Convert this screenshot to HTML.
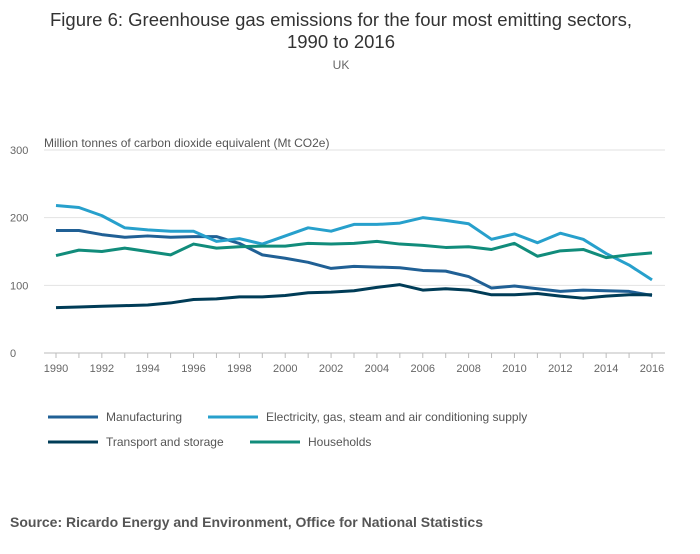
<!DOCTYPE html>
<html><head><meta charset="utf-8">
<style>
body{margin:0;background:#fff;font-family:"Liberation Sans",sans-serif;}
svg text{font-family:"Liberation Sans",sans-serif;}
</style></head>
<body>
<svg id="chart" width="700" height="549">
<text x="341" y="26" text-anchor="middle" font-size="18.5" fill="#333">Figure 6: Greenhouse gas emissions for the four most emitting sectors,</text>
<text x="341" y="48" text-anchor="middle" font-size="18.5" fill="#333">1990 to 2016</text>
<text x="341" y="69" text-anchor="middle" font-size="12" fill="#666">UK</text>
<text x="44" y="147" font-size="12" fill="#555">Million tonnes of carbon dioxide equivalent (Mt CO2e)</text>
<g id="grid"></g><g id="series"></g><g id="legend"></g>
<text x="10" y="527" font-size="14" font-weight="bold" fill="#555">Source: Ricardo Energy and Environment, Office for National Statistics</text>
</svg>
<script>
const years=[1990,1991,1992,1993,1994,1995,1996,1997,1998,1999,2000,2001,2002,2003,2004,2005,2006,2007,2008,2009,2010,2011,2012,2013,2014,2015,2016];
const manufacturing=[181,181,175,171,173,171,172,172,162,145,140,134,125,128,127,126,122,121,113,96,99,95,91,93,92,91,85];
const electricity=[218,215,203,185,182,180,180,165,169,161,173,185,180,190,190,192,200,196,191,168,176,163,177,168,147,130,108];
const transport=[67,68,69,70,71,74,79,80,83,83,85,89,90,92,97,101,93,95,93,86,86,88,84,81,84,86,86];
const households=[144,152,150,155,150,145,161,155,157,158,158,162,161,162,165,161,159,156,157,153,162,143,151,153,141,145,148];
const yTicks=[0,100,200,300];
const seriesNames=["Manufacturing","Electricity, gas, steam and air conditioning supply","Transport and storage","Households"];
const colors=["#206095","#27a0cc","#003c57","#118c7b"];
const NS="http://www.w3.org/2000/svg";
const x=y=>56+(y-1990)/26*(652-56);
const yv=v=>353-v*(203/300);
function mk(t,a,p){const e=document.createElementNS(NS,t);for(const k in a)e.setAttribute(k,a[k]);p.appendChild(e);return e;}
const grid=document.getElementById('grid');
yTicks.forEach(t=>{
 const l=mk('line',{x1:44,x2:665,y1:yv(t),y2:yv(t),stroke:t===0?'#bbb':'#e2e2e2','stroke-width':1},grid);
 
 
 const tx=mk('text',{x:10,y:yv(t)+4,'font-size':11,fill:'#666'},grid);tx.textContent=t;
 
 
});
years.forEach(yr=>{
 const tk=mk('line',{x1:x(yr),x2:x(yr),y1:353,y2:358,stroke:'#bbb'},grid);
 
 
 if(yr%2===0){const tx=mk('text',{x:x(yr),y:372,'font-size':11,fill:'#666','text-anchor':'middle'},grid);tx.textContent=yr;
 
 }
});
const data=[manufacturing,electricity,transport,households];
const sg=document.getElementById('series');
data.forEach((d,i)=>{
 const p=mk('polyline',{points:d.map((v,j)=>x(years[j])+','+yv(v)).join(' '),fill:'none',stroke:colors[i],'stroke-width':3,'stroke-linejoin':'round'},sg);
 
 
});
const lg=document.getElementById('legend');
const pos=[[48,417],[208,417],[48,442],[250,442]];
seriesNames.forEach((n,i)=>{
 const g=mk('g',{},lg);
 
 
 mk('line',{x1:pos[i][0],x2:pos[i][0]+50,y1:pos[i][1],y2:pos[i][1],stroke:colors[i],'stroke-width':3},g);
 const t=mk('text',{x:pos[i][0]+58,y:pos[i][1]+4,'font-size':12,fill:'#555'},g);t.textContent=n;
});
</script>
</body></html>
